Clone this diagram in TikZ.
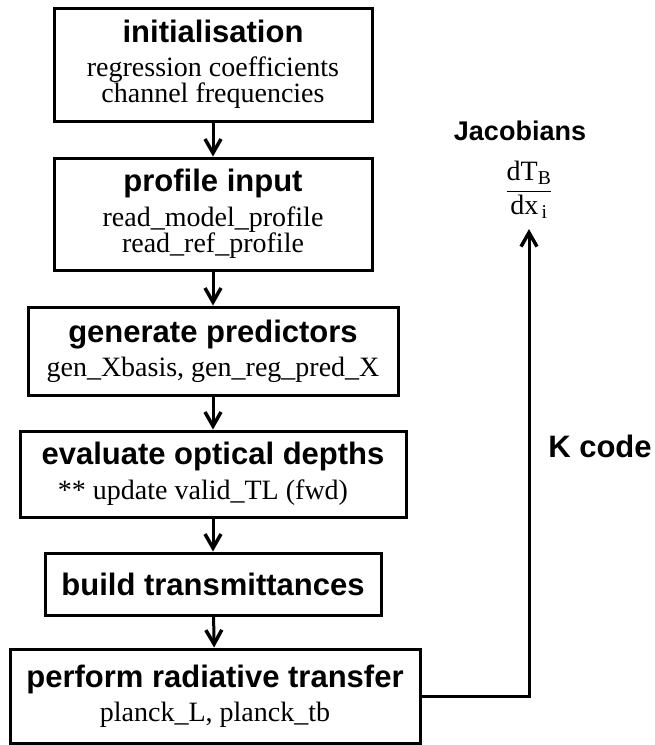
\documentclass[tikz,border=0pt]{standalone}
\usepackage{fontspec}
\setmainfont{Liberation Serif}
\setsansfont{Liberation Sans}
\usetikzlibrary{arrows.meta}
\newcommand{\ttl}{\fontsize{31}{33}\selectfont\sffamily\bfseries}
\newcommand{\sbt}{\fontsize{28}{26}\selectfont\rmfamily}

\begin{document}
\begin{tikzpicture}[x=1pt,y=-1pt,
  stage/.style={draw, line width=3pt, align=center, inner sep=0pt, font=\sbt},
  flow/.style={line width=3pt, -{Straight Barb[length=14pt,width=16pt,line width=3.5pt]}}]
\useasboundingbox (0,0) rectangle (655,745);
\node [stage, minimum width=318pt, minimum height=113pt] (init) at (213,64.5) {{\ttl initialisation}\\[8pt] regression coefficients\\ channel frequencies};
\node [stage, minimum width=318pt, minimum height=112pt] (prof) at (213,214) {{\ttl profile input}\\[8pt] read\_model\_profile\\ read\_ref\_profile};
\node [stage, minimum width=370pt, minimum height=88pt] (pred) at (213,351) {{\ttl generate predictors}\\[8pt] gen\_Xbasis, gen\_reg\_pred\_X};
\node [stage, minimum width=386pt, minimum height=86pt] (optd) at (213,474) {{\ttl evaluate optical depths}\\[8pt] ** update valid\_TL (fwd)\hspace*{20pt}};
\node [stage, minimum width=336pt, minimum height=62pt] (trans) at (213,584) {\ttl build transmittances};
\node [stage, minimum width=410pt, minimum height=94pt] (rad) at (215,696) {{\ttl perform radiative transfer}\\[8pt] planck\_L, planck\_tb};
\node [font=\fontsize{27}{29}\selectfont\sffamily\bfseries] (jac) at (520,131) {Jacobians};
\node [font=\fontsize{28}{30}\selectfont, inner sep=0pt] (dtdx) at (529,190) {$\displaystyle\frac{\mbox{dT\textsubscript{B}}}{\mbox{dx\textsubscript{\,i}}}$};
\node [font=\ttl] (kcode) at (600,446) {K code};

\draw [flow] (init) -- (prof);
\draw [flow] (prof) -- (pred);
\draw [flow] (pred) -- (optd);
\draw [flow] (optd) -- (trans);
\draw [flow] (trans) -- (rad);
\draw [flow, shorten >=10pt] (rad.east) -| (dtdx.south);
\end{tikzpicture}
\end{document}
